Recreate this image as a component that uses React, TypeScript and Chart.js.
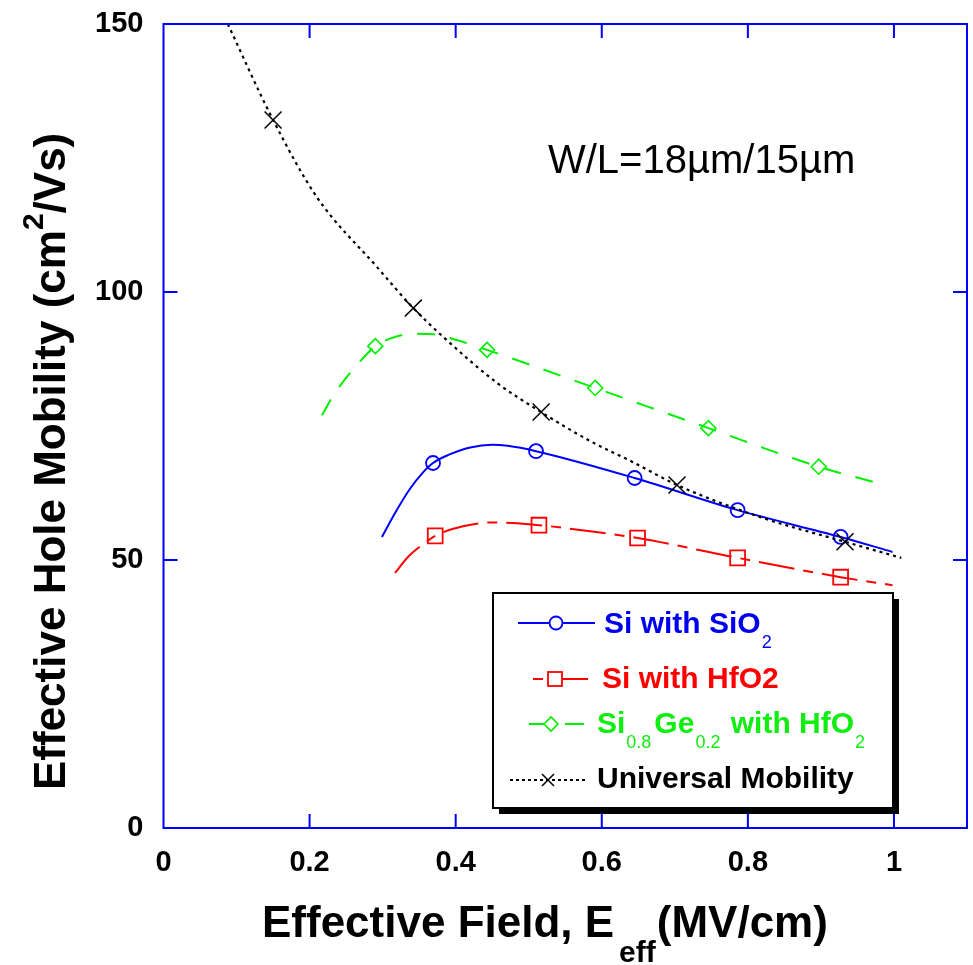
import React, { useEffect, useRef } from 'react';
import { Chart, registerables } from 'chart.js';

Chart.register(...registerables);

const FONT = '"Liberation Sans", Arial, Helvetica, sans-serif';

// Axis ranges
const xRange = [0, 1.1];
const yRange = [0, 150];
const xStep = 0.2;
const yStep = 50;

// Si with SiO2 : fitted curve and measured points
const siO2CurveX = [0.299, 0.318, 0.337, 0.355, 0.369, 0.39, 0.42, 0.45, 0.471, 0.51, 0.645, 0.786, 0.927, 0.998];
const siO2CurveY = [54.3, 59.0, 63.2, 66.3, 68.1, 69.6, 71.0, 71.5, 71.3, 70.3, 65.3, 59.3, 54.3, 51.5];
const siO2MarkX = [0.369, 0.51, 0.645, 0.786, 0.927];
const siO2MarkY = [68.1, 70.3, 65.3, 59.3, 54.3];

// Si with HfO2
const hfO2CurveX = [0.317, 0.335, 0.354, 0.372, 0.41, 0.45, 0.514, 0.57, 0.649, 0.786, 0.927, 0.998];
const hfO2CurveY = [47.6, 50.6, 52.8, 54.5, 56.3, 57.0, 56.5, 55.6, 54.1, 50.4, 46.8, 45.3];
const hfO2MarkX = [0.372, 0.514, 0.649, 0.786, 0.927];
const hfO2MarkY = [54.5, 56.5, 54.1, 50.4, 46.8];

// Si0.8Ge0.2 with HfO2
const sigeCurveX = [0.217, 0.232, 0.25, 0.27, 0.29, 0.31, 0.34, 0.37, 0.4, 0.443, 0.591, 0.746, 0.897, 0.971];
const sigeCurveY = [77.0, 80.6, 84.0, 87.2, 89.9, 91.3, 92.2, 92.1, 91.1, 89.2, 82.1, 74.6, 67.4, 64.6];
const sigeMarkX = [0.29, 0.443, 0.591, 0.746, 0.897];
const sigeMarkY = [89.9, 89.2, 82.1, 74.6, 67.4];

// Universal mobility
const univCurveX = [0.088, 0.15, 0.21, 0.292, 0.342, 0.388, 0.457, 0.517, 0.584, 0.642, 0.703, 0.817, 0.933, 1.01];
const univCurveY = [150, 132.1, 117.7, 104.7, 97.0, 91.0, 83.0, 77.6, 72.2, 68.3, 64.0, 58.0, 53.4, 50.4];
const univMarkX = [0.15, 0.342, 0.517, 0.703, 0.933];
const univMarkY = [132.1, 97.0, 77.6, 64.0, 53.4];

const BLUE = '#0000ff';
const RED = '#ff0000';
const GREEN = '#00f000';
const BLACK = '#000000';

const pts = (xs: number[], ys: number[]) => xs.map((x, i) => ({ x, y: ys[i] }));

type Run = { text: string; font: string; dy?: number; dx?: number; color?: string };

function drawRuns(ctx: CanvasRenderingContext2D, x: number, y: number, runs: Run[], color: string) {
  let cx = x;
  ctx.textAlign = 'left';
  ctx.textBaseline = 'alphabetic';
  for (const r of runs) {
    ctx.font = r.font;
    ctx.fillStyle = r.color || color;
    cx += r.dx || 0;
    ctx.fillText(r.text, cx, y + (r.dy || 0));
    cx += ctx.measureText(r.text).width;
  }
  return cx;
}

// keep the plot frame where the layout padding puts it
const noScalePadding = (s: any) => {
  s.paddingTop = 0;
  s.paddingBottom = 0;
  s.paddingLeft = 0;
  s.paddingRight = 0;
};

const decor = {
  id: 'decor',
  beforeDraw(chart: any) {
    const ctx = chart.ctx;
    ctx.save();
    ctx.fillStyle = '#ffffff';
    ctx.fillRect(0, 0, chart.width, chart.height);
    ctx.restore();
  },
  afterDatasetsDraw(chart: any) {
    const ctx: CanvasRenderingContext2D = chart.ctx;
    const { left, right, top, bottom } = chart.chartArea;
    const xs = chart.scales.x;
    const ys = chart.scales.y;
    ctx.save();
    ctx.strokeStyle = BLUE;
    ctx.lineWidth = 2;
    ctx.setLineDash([]);
    ctx.strokeRect(left, top, right - left, bottom - top);
    const tick = 14;
    ctx.beginPath();
    for (const t of xs.ticks) {
      if (t.value <= xs.min || t.value >= xs.max) continue;
      const px = xs.getPixelForValue(t.value);
      ctx.moveTo(px, bottom);
      ctx.lineTo(px, bottom - tick);
      ctx.moveTo(px, top);
      ctx.lineTo(px, top + tick);
    }
    for (const t of ys.ticks) {
      if (t.value <= ys.min || t.value >= ys.max) continue;
      const py = ys.getPixelForValue(t.value);
      ctx.moveTo(left, py);
      ctx.lineTo(left + tick, py);
      ctx.moveTo(right, py);
      ctx.lineTo(right - tick, py);
    }
    ctx.stroke();
    ctx.restore();
  },
  afterDraw(chart: any) {
    const ctx: CanvasRenderingContext2D = chart.ctx;
    ctx.save();

    // x-axis title
    drawRuns(ctx, 262, 937, [
      { text: 'Effective Field, E', font: `bold 44px ${FONT}` },
      { text: 'eff', font: `bold 30px ${FONT}`, dy: 25, dx: 5 },
      { text: '(MV/cm)', font: `bold 44px ${FONT}`, dx: 1 },
    ], BLACK);

    // y-axis title
    ctx.save();
    ctx.translate(65, 790);
    ctx.rotate(-Math.PI / 2);
    drawRuns(ctx, 0, 0, [
      { text: 'Effective Hole Mobility (cm', font: `bold 44px ${FONT}` },
      { text: '2', font: `bold 30px ${FONT}`, dy: -22 },
      { text: '/Vs)', font: `bold 44px ${FONT}` },
    ], BLACK);
    ctx.restore();

    // device geometry note
    drawRuns(ctx, 548, 173, [{ text: 'W/L=18\u00b5m/15\u00b5m', font: `40px ${FONT}` }], BLACK);

    // legend box with drop shadow
    const bx = 493, by = 593, bw = 400, bh = 215;
    ctx.fillStyle = BLACK;
    ctx.fillRect(bx + 6, by + 6, bw, bh);
    ctx.fillStyle = '#ffffff';
    ctx.fillRect(bx, by, bw, bh);
    ctx.strokeStyle = BLACK;
    ctx.lineWidth = 2;
    ctx.strokeRect(bx, by, bw, bh);

    const big = `bold 30px ${FONT}`;
    const small = `18px ${FONT}`;

    // row 1: Si with SiO2
    ctx.strokeStyle = BLUE;
    ctx.lineWidth = 2;
    ctx.beginPath();
    ctx.moveTo(518, 623); ctx.lineTo(549, 623);
    ctx.moveTo(563, 623); ctx.lineTo(595, 623);
    ctx.stroke();
    ctx.lineWidth = 1.8;
    ctx.beginPath();
    ctx.arc(556, 623, 6.5, 0, Math.PI * 2);
    ctx.stroke();
    drawRuns(ctx, 604, 633, [
      { text: 'Si with SiO', font: big },
      { text: '2', font: small, dy: 15, dx: 1 },
    ], '#0000f0');

    // row 2: Si with HfO2
    ctx.strokeStyle = RED;
    ctx.lineWidth = 2;
    ctx.beginPath();
    ctx.moveTo(533, 679); ctx.lineTo(543, 679);
    ctx.moveTo(562, 679); ctx.lineTo(588, 679);
    ctx.stroke();
    ctx.lineWidth = 1.8;
    ctx.strokeRect(548, 672, 14, 14);
    drawRuns(ctx, 602, 688, [{ text: 'Si with HfO2', font: big }], RED);

    // row 3: Si0.8Ge0.2 with HfO2
    ctx.strokeStyle = GREEN;
    ctx.lineWidth = 2;
    ctx.beginPath();
    ctx.moveTo(529, 724); ctx.lineTo(544, 724);
    ctx.moveTo(565, 724); ctx.lineTo(584, 724);
    ctx.stroke();
    ctx.lineWidth = 1.6;
    ctx.beginPath();
    ctx.moveTo(544, 724); ctx.lineTo(551, 717); ctx.lineTo(558, 724); ctx.lineTo(551, 731);
    ctx.closePath();
    ctx.stroke();
    drawRuns(ctx, 597, 733, [
      { text: 'Si', font: big },
      { text: '0.8', font: small, dy: 15, dx: 1 },
      { text: 'Ge', font: big, dx: 3 },
      { text: '0.2', font: small, dy: 15, dx: 1 },
      { text: ' with HfO', font: big, dx: 2 },
      { text: '2', font: small, dy: 15, dx: 1 },
    ], '#10ee10');

    // row 4: universal mobility
    ctx.strokeStyle = BLACK;
    ctx.lineWidth = 2;
    ctx.setLineDash([3, 3]);
    ctx.beginPath();
    ctx.moveTo(510, 780); ctx.lineTo(587, 780);
    ctx.stroke();
    ctx.setLineDash([]);
    ctx.lineWidth = 1.5;
    ctx.beginPath();
    ctx.moveTo(542, 774); ctx.lineTo(554, 786);
    ctx.moveTo(554, 774); ctx.lineTo(542, 786);
    ctx.stroke();
    drawRuns(ctx, 597, 788, [{ text: 'Universal Mobility', font: big }], BLACK);

    ctx.restore();
  },
};

export default function App() {
  const ref = useRef<HTMLCanvasElement | null>(null);

  useEffect(() => {
    if (!ref.current) return;
    const curve = (xs: number[], ys: number[], color: string, dash: number[], width: number) => ({
      data: pts(xs, ys),
      showLine: true,
      borderColor: color,
      borderWidth: width,
      borderDash: dash,
      pointRadius: 0,
      cubicInterpolationMode: 'monotone' as const,
      fill: false,
    });
    const marks = (xs: number[], ys: number[], color: string, style: string, r: number, w: number) => ({
      data: pts(xs, ys),
      showLine: false,
      pointStyle: style,
      pointRadius: r,
      pointBorderColor: color,
      pointBackgroundColor: 'rgba(0,0,0,0)',
      pointBorderWidth: w,
    });

    const chart = new Chart(ref.current, {
      type: 'scatter',
      data: {
        datasets: [
          curve(univCurveX, univCurveY, BLACK, [3, 4], 2.2),
          marks(univMarkX, univMarkY, BLACK, 'crossRot', 12, 1.5),
          curve(sigeCurveX, sigeCurveY, GREEN, [18, 15], 2),
          marks(sigeMarkX, sigeMarkY, GREEN, 'rectRot', 7.5, 1.6),
          curve(hfO2CurveX, hfO2CurveY, RED, [36, 9, 10, 9], 2),
          marks(hfO2MarkX, hfO2MarkY, RED, 'rect', 10.5, 1.8),
          curve(siO2CurveX, siO2CurveY, BLUE, [], 2),
          marks(siO2MarkX, siO2MarkY, BLUE, 'circle', 7, 1.8),
        ] as any,
      },
      options: {
        responsive: false,
        animation: false,
        devicePixelRatio: 1,
        layout: { autoPadding: false, padding: { left: 0, right: 6, top: 24, bottom: 0 } },
        plugins: { legend: { display: false }, tooltip: { enabled: false } },
        scales: {
          x: {
            type: 'linear',
            min: xRange[0],
            max: xRange[1],
            grid: { display: false, drawTicks: false },
            border: { display: false },
            ticks: {
              stepSize: xStep,
              includeBounds: false,
              autoSkip: false,
              maxRotation: 0,
              padding: 18,
              color: BLACK,
              font: { family: FONT, size: 29, weight: 'bold' },
              callback: (v: any) => String(+Number(v).toFixed(2)),
            },
            afterFit: (s: any) => { s.height = 137; noScalePadding(s); },
          },
          y: {
            type: 'linear',
            min: yRange[0],
            max: yRange[1],
            grid: { display: false, drawTicks: false },
            border: { display: false },
            ticks: {
              stepSize: yStep,
              padding: 20,
              color: BLACK,
              font: { family: FONT, size: 29, weight: 'bold' },
            },
            afterFit: (s: any) => { s.width = 163.5; noScalePadding(s); },
          },
        },
      } as any,
      plugins: [decor],
    });
    return () => chart.destroy();
  }, []);

  return (
    <div style={{ position: 'fixed', left: 0, top: 0, width: 973, height: 965, background: '#fff' }}>
      <canvas ref={ref} width={973} height={965} style={{ display: 'block' }} />
    </div>
  );
}
